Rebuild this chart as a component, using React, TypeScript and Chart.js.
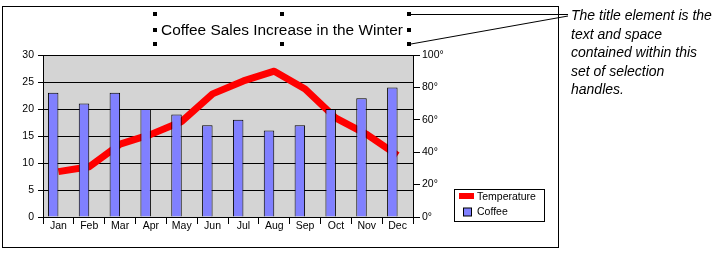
import React, { useEffect, useRef } from 'react';
import { Chart, registerables } from 'chart.js';

Chart.register(...registerables);

const months = ['Jan', 'Feb', 'Mar', 'Apr', 'May', 'Jun', 'Jul', 'Aug', 'Sep', 'Oct', 'Nov', 'Dec'];
const coffeeSales = [23, 21, 23, 20, 19, 17, 18, 16, 17, 20, 22, 24];
const temperature = [28, 31, 45, 51, 59, 76, 84, 90, 79, 61, 51, 38];
const titleText = 'Coffee Sales Increase in the Winter';
const noteLines = ['The title element is the', 'text and space', 'contained within this', 'set of selection', 'handles.'];
const legendLabels = ['Temperature', 'Coffee'];

const FONT = "'Liberation Sans', Arial, sans-serif";

const decorPlugin = {
  id: 'decor',
  beforeDraw(chart: any) {
    const { ctx, chartArea } = chart;
    ctx.save();
    ctx.fillStyle = '#ffffff';
    ctx.fillRect(0, 0, chart.width, chart.height);
    ctx.fillStyle = '#d4d4d4';
    ctx.fillRect(chartArea.left, chartArea.top, chartArea.right - chartArea.left, chartArea.bottom - chartArea.top);
    ctx.restore();
  },
  afterDraw(chart: any) {
    const { ctx } = chart;
    ctx.save();
    // outer frame
    ctx.strokeStyle = '#000';
    ctx.lineWidth = 1;
    ctx.strokeRect(2.5, 6.5, 556, 241);

    // title
    ctx.fillStyle = '#000';
    ctx.font = `15.4px ${FONT}`;
    ctx.textAlign = 'center';
    ctx.textBaseline = 'alphabetic';
    ctx.fillText(titleText, 282, 35);

    // selection handles
    const hx = [153, 280, 407];
    const hy = [12, 27.5, 42];
    hx.forEach((x, i) => {
      hy.forEach((y, j) => {
        if (i === 1 && j === 1) return;
        ctx.fillRect(x, Math.round(y), 4, 4);
      });
    });

    // callout lines
    ctx.beginPath();
    ctx.moveTo(411, 14.5);
    ctx.lineTo(568, 14.5);
    ctx.moveTo(411, 44);
    ctx.lineTo(568, 16);
    ctx.stroke();

    // note
    ctx.font = `italic 14px ${FONT}`;
    ctx.textAlign = 'left';
    noteLines.forEach((l, i) => {
      ctx.fillText(l, 571, 20 + i * 18.5);
    });

    // legend
    ctx.strokeRect(454.5, 189.5, 90, 32);
    ctx.fillStyle = '#ff0000';
    ctx.fillRect(459, 193, 15, 6);
    ctx.fillStyle = '#8080ff';
    ctx.fillRect(463.5, 208, 8, 8);
    ctx.strokeRect(463.5, 208, 8, 8);
    ctx.fillStyle = '#000';
    ctx.font = `10.5px ${FONT}`;
    ctx.textBaseline = 'middle';
    ctx.fillText(legendLabels[0], 477, 197);
    ctx.fillText(legendLabels[1], 477, 212.5);
    ctx.restore();
  },
};

export default function App() {
  const ref = useRef<HTMLCanvasElement>(null);
  useEffect(() => {
    if (!ref.current) return;
    Chart.defaults.font.family = FONT;
    const chart = new Chart(ref.current, {
      type: 'bar',
      data: {
        labels: months,
        datasets: [
          {
            type: 'line',
            label: legendLabels[0],
            data: temperature,
            yAxisID: 'y1',
            borderColor: '#ff0000',
            backgroundColor: '#ff0000',
            borderWidth: 7,
            pointRadius: 0,
            tension: 0,
            borderCapStyle: 'butt',
            borderJoinStyle: 'round',
            order: 2,
          } as any,
          {
            type: 'bar',
            label: legendLabels[1],
            data: coffeeSales,
            yAxisID: 'y',
            backgroundColor: '#8080ff',
            borderColor: '#000000',
            borderWidth: 1,
            barPercentage: 1,
            categoryPercentage: 0.68,
            order: 1,
          },
          {
            type: 'bar',
            label: '',
            data: months.map(() => null),
            yAxisID: 'y',
            barPercentage: 1,
            categoryPercentage: 0.68,
            order: 1,
          },
        ],
      },
      options: {
        animation: false,
        responsive: false,
        devicePixelRatio: 1,
        layout: { padding: { top: 55, left: 0, right: 0, bottom: 0 } },
        plugins: { legend: { display: false }, title: { display: false }, tooltip: { enabled: false } },
        scales: {
          x: {
            offset: true,
            grid: { offset: true, drawOnChartArea: false, color: '#000', tickLength: 7, tickColor: '#000' },
            border: { color: '#000', width: 1 },
            ticks: { color: '#000', font: { size: 10.5 }, padding: -4, maxRotation: 0, autoSkip: false },
            afterFit: (s: any) => { s.height = 41; },
          },
          y: {
            position: 'left',
            min: 0,
            max: 30,
            ticks: { stepSize: 5, color: '#000', font: { size: 10.5 }, padding: 4 },
            grid: { color: '#000', tickLength: 5, tickColor: '#000' },
            border: { color: '#000', width: 1 },
            afterFit: (s: any) => { s.width = 43; },
          },
          y1: {
            position: 'right',
            min: 0,
            max: 100,
            ticks: { stepSize: 20, color: '#000', font: { size: 10.5 }, padding: 2, callback: (v: any) => `${v}°` },
            grid: { drawOnChartArea: false, color: '#000', tickLength: 7, tickColor: '#000' },
            border: { color: '#000', width: 1 },
            afterFit: (s: any) => { s.width = 308; },
          },
        },
      },
      plugins: [decorPlugin],
    });
    return () => chart.destroy();
  }, []);
  return (
    <div style={{ position: 'absolute', left: 0, top: 0, width: 721, height: 258 }}>
      <canvas ref={ref} width={721} height={258} />
    </div>
  );
}
